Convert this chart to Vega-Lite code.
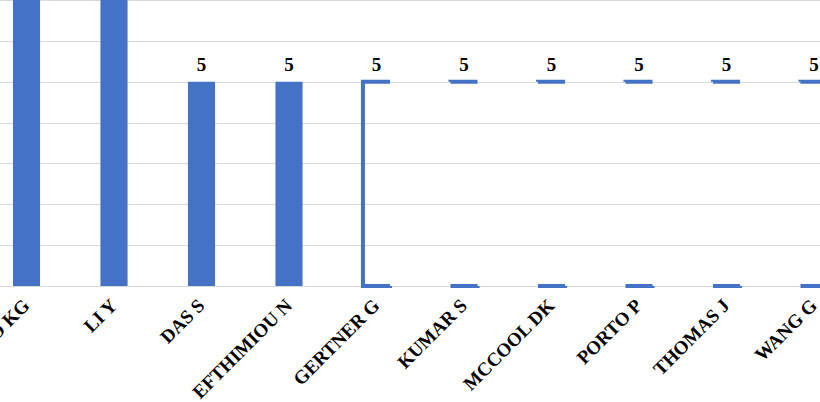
{
  "$schema": "https://vega.github.io/schema/vega-lite/v6.json",
  "width": 820,
  "height": 286,
  "autosize": {"type": "none"},
  "padding": {"left": 0, "top": 0, "right": 0, "bottom": 116},
  "background": "white",
  "config": {"view": {"stroke": null}},
  "data": {
    "values": [
      {"author": "ZHAO KG", "count": 8},
      {"author": "LI Y", "count": 7},
      {"author": "DAS S", "count": 5},
      {"author": "EFTHIMIOU N", "count": 5},
      {"author": "GERTNER G", "count": 5},
      {"author": "KUMAR S", "count": 5},
      {"author": "MCCOOL DK", "count": 5},
      {"author": "PORTO P", "count": 5},
      {"author": "THOMAS J", "count": 5},
      {"author": "WANG G", "count": 5}
    ]
  },
  "encoding": {
    "x": {
      "field": "author",
      "type": "nominal",
      "sort": null,
      "scale": {"range": [-17.25, 857.75], "paddingInner": 0.69, "paddingOuter": 0.345},
      "axis": {
        "title": null,
        "ticks": false,
        "domain": true,
        "domainColor": "#d9d9d9",
        "domainWidth": 1,
        "labelAngle": -45,
        "labelAlign": "right",
        "labelBaseline": "middle",
        "labelPadding": 16,
        "labelFont": "Liberation Serif",
        "labelFontWeight": "bold",
        "labelFontSize": 19,
        "labelColor": "#000000",
        "labelOverlap": false,
        "labelLimit": 400
      }
    },
    "y": {
      "field": "count",
      "type": "quantitative",
      "scale": {"domain": [0, 7], "nice": false, "zero": true},
      "axis": {
        "title": null,
        "labels": false,
        "ticks": false,
        "domain": false,
        "grid": true,
        "gridColor": "#d9d9d9",
        "gridWidth": 1,
        "values": [0, 1, 2, 3, 4, 5, 6, 7]
      }
    }
  },
  "layer": [
    {
      "transform": [{"filter": {"field": "author", "oneOf": ["ZHAO KG", "LI Y", "DAS S", "EFTHIMIOU N"]}}],
      "mark": {"type": "bar", "fill": "#4472C4"}
    },
    {
      "transform": [{"filter": {"field": "author", "equal": "GERTNER G"}}],
      "mark": {"type": "bar", "fill": "transparent", "stroke": "#4472C4", "strokeWidth": 4, "strokeDash": [27.1, 204.3, 231.4, 0]}
    },
    {
      "transform": [{"filter": {"field": "author", "oneOf": ["KUMAR S", "MCCOOL DK", "PORTO P", "THOMAS J", "WANG G"]}}],
      "mark": {"type": "bar", "fill": "transparent", "stroke": "#4472C4", "strokeWidth": 4, "strokeDash": [27.1, 204.3]}
    },
    {
      "mark": {"type": "text", "font": "Liberation Serif", "fontWeight": "bold", "fontSize": 19, "color": "#000000", "baseline": "alphabetic", "dy": -11},
      "encoding": {"text": {"field": "count", "type": "quantitative"}}
    }
  ]
}
